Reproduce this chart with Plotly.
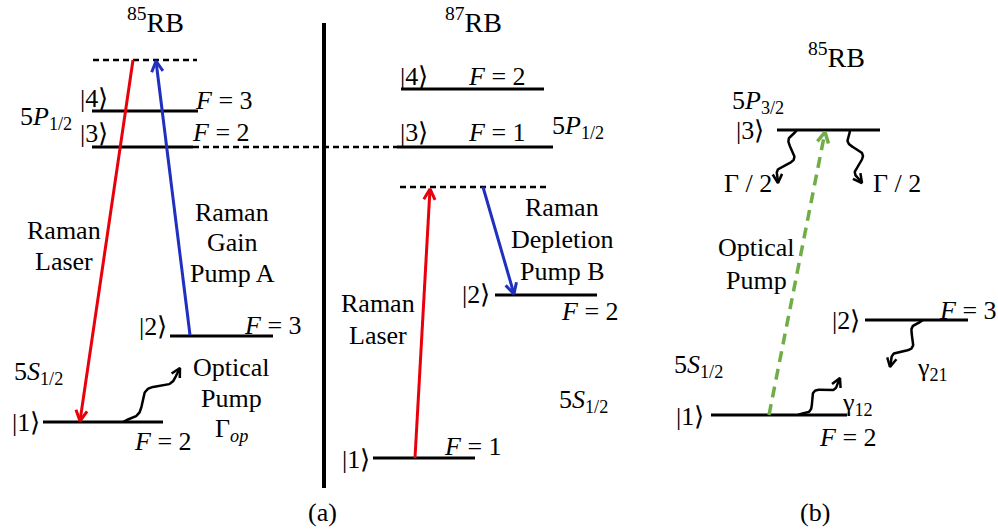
import numpy as np
import plotly.graph_objects as go

# ---------------- data (diagram units = pixels of a 998x531 canvas) ----------------
level_x0 = [92, 92, 170, 43, 401, 397, 495, 373, 777, 865, 711]
level_x1 = [198, 193, 273, 163, 544, 553, 597, 475, 880, 968, 847]
level_y = [111, 147, 336, 422, 89, 147, 295, 458, 130, 320, 415]

dash_x0 = [93, 193, 400]
dash_x1 = [197, 397, 547]
dash_y = [60, 147, 187]

sep_x = [324, 324]
sep_y = [23, 488]

# straight arrows: tail -> head
arrow_tail_x = [133, 190, 415, 483]
arrow_tail_y = [60, 335, 458, 187]
arrow_head_x = [80, 156, 430, 514]
arrow_head_y = [421, 61, 189, 294]
arrow_color = ["#e8000b", "#1f2fbf", "#e8000b", "#1f2fbf"]

# green dashed optical pump
pump_tail = (769, 415)
pump_head = (825, 132)
pump_color = "#70ad47"

# wavy decay / pump arrows: start -> end
wave_x0 = [123, 797, 850, 923, 798]
wave_y0 = [422, 130, 130, 320, 415]
wave_x1 = [180, 778, 862, 890, 840]
wave_y1 = [368, 183, 183, 367, 378]

label_text = [
    "<sup>85</sup>RB", "|4⟩", "<i>F</i> = 3", "5<i>P</i><sub>1/2</sub>", "|3⟩", "<i>F</i> = 2",
    "Raman", "Laser", "Raman", "Gain", "Pump A", "|2⟩", "<i>F</i> = 3",
    "5<i>S</i><sub>1/2</sub>", "Optical", "Pump", "Γ<sub><i>op</i></sub>", "|1⟩", "<i>F</i> = 2", "(a)",
    "<sup>87</sup>RB", "|4⟩", "<i>F</i> = 2", "5<i>P</i><sub>1/2</sub>", "|3⟩", "<i>F</i> = 1",
    "Raman", "Depletion", "Pump B", "|2⟩", "<i>F</i> = 2", "Raman", "Laser",
    "5<i>S</i><sub>1/2</sub>", "|1⟩", "<i>F</i> = 1",
    "<sup>85</sup>RB", "5<i>P</i><sub>3/2</sub>", "|3⟩", "Γ / 2", "Γ / 2", "Optical", "Pump",
    "|2⟩", "<i>F</i> = 3", "γ<sub>21</sub>", "5<i>S</i><sub>1/2</sub>", "|1⟩", "γ<sub>12</sub>",
    "<i>F</i> = 2", "(b)",
]
label_x = [
    155, 94, 224, 46, 94, 221,
    64, 64, 232, 232, 232, 153, 273,
    38, 231, 231, 231, 26, 163, 322,
    473, 414, 497, 578, 414, 497,
    562, 562, 562, 476, 590, 378, 378,
    583, 356, 473,
    836, 758, 750, 748, 897, 756, 756,
    846, 968, 932, 698, 690, 857,
    848, 815,
]
label_y = [
    20, 98, 100, 118, 133, 132,
    230, 261, 212, 242, 273, 326, 325,
    373, 367, 398, 430, 422, 441, 512,
    20, 76, 76, 127, 132, 132,
    207, 239, 271, 294, 311, 303, 335,
    401, 459, 446,
    55, 102, 130, 183, 183, 247, 280,
    320, 310, 369, 366, 416, 404,
    437, 512,
]

SERIF = "Liberation Serif"

fig = go.Figure()


def add_line(xs, ys, color="black", width=3, dash="solid"):
    fig.add_trace(go.Scatter(x=xs, y=ys, mode="lines", hoverinfo="skip", showlegend=False,
                             line=dict(color=color, width=width, dash=dash)))


def head(xt, yt, xh, yh, color, size=12, ang=np.deg2rad(28), width=3):
    d = np.array([xh - xt, yh - yt], float)
    d /= np.linalg.norm(d)
    pts = []
    for s in (+1, -1):
        c, sn = np.cos(s * ang), np.sin(s * ang)
        r = np.array([c * d[0] - sn * d[1], sn * d[0] + c * d[1]])
        pts.append((xh - size * r[0], yh - size * r[1]))
    add_line([pts[0][0], xh, pts[1][0]], [pts[0][1], yh, pts[1][1]], color, width)


# energy levels
for a, b, y in zip(level_x0, level_x1, level_y):
    add_line([a, b], [y, y], width=3)

# dashed virtual levels
for a, b, y in zip(dash_x0, dash_x1, dash_y):
    add_line([a, b], [y, y], width=2.5, dash="6px,4px")

# separator
add_line(sep_x, sep_y, width=4)

# straight arrows
for xt, yt, xh, yh, c in zip(arrow_tail_x, arrow_tail_y, arrow_head_x, arrow_head_y, arrow_color):
    add_line([xt, xh], [yt, yh], c, 3)
    head(xt, yt, xh, yh, c)

# dashed green arrow
add_line([pump_tail[0], pump_head[0]], [pump_tail[1], pump_head[1]], pump_color, 3.5, "11px,7px")
head(pump_tail[0], pump_tail[1], pump_head[0], pump_head[1], pump_color, width=3.5)

# wavy arrows
for x0, y0, x1, y1 in zip(wave_x0, wave_y0, wave_x1, wave_y1):
    L = np.hypot(x1 - x0, y1 - y0)
    d = np.array([x1 - x0, y1 - y0]) / L
    n = np.array([-d[1], d[0]])
    t = np.linspace(0, 1, 100)
    amp = 7 * np.sin(np.pi * t) ** 0.6
    off = amp * np.sin(2 * np.pi * 1.5 * t)
    xs = x0 + d[0] * L * t + n[0] * off
    ys = y0 + d[1] * L * t + n[1] * off
    add_line(xs, ys, "black", 2.5)
    head(xs[-8], ys[-8], x1, y1, "black", size=10, width=2.5)

for txt, x, y in zip(label_text, label_x, label_y):
    size = 28 if "RB" in txt else 26
    fig.add_annotation(x=x, y=y, text=txt, showarrow=False, xanchor="center", yanchor="middle",
                       font=dict(family=SERIF, size=size, color="black"))

fig.update_layout(
    width=998, height=531, margin=dict(l=0, r=0, t=0, b=0),
    paper_bgcolor="white", plot_bgcolor="white",
    font=dict(family=SERIF),
    xaxis=dict(range=[0, 998], visible=False, fixedrange=True),
    yaxis=dict(range=[531, 0], visible=False, fixedrange=True),
)

fig.write_html("out.html")
